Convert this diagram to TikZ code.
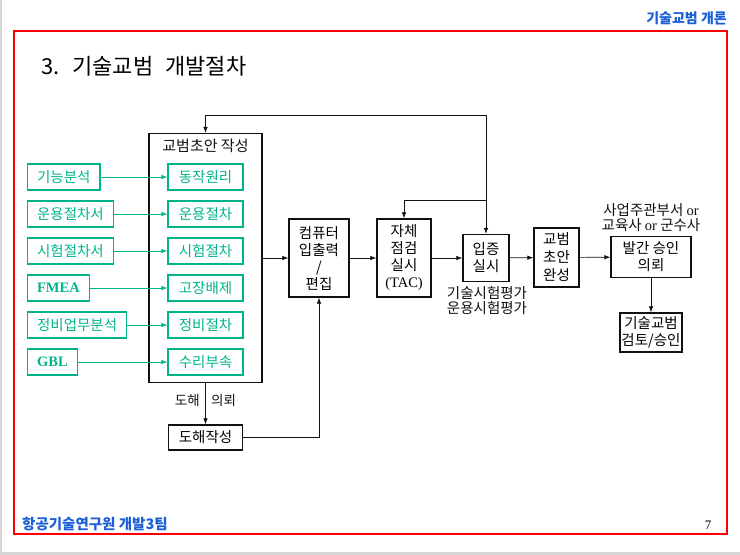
\documentclass[tikz,border=0pt]{standalone}
\usepackage{fontspec}
\setmainfont{Noto Sans CJK KR}
\newfontfamily\latfont{Liberation Serif}
\usetikzlibrary{positioning, arrows.meta}
\definecolor{Frame}{HTML}{FF0000}
\definecolor{Teal}{HTML}{00B48A}
\definecolor{Head}{HTML}{1B5FD8}
\definecolor{Edge}{HTML}{D6D6D6}
\definecolor{Ink}{HTML}{111111}
\tikzset{
    srcbox/.style={rectangle, draw=Teal, line width=1.2pt, text=Teal, anchor=west, minimum height=26pt, inner xsep=9.5pt, font=\fontsize{14.5}{17}\selectfont},
    docbox/.style={rectangle, draw=Teal, line width=1.2pt, text=Teal, minimum height=26pt, minimum width=75pt, inner sep=0pt, font=\fontsize{14.5}{17}\selectfont},
    stepbox/.style={rectangle, draw=Ink, line width=1.3pt, align=center, inner sep=0pt, font=\fontsize{14.5}{17}\selectfont},
    note/.style={align=center, inner sep=0pt, text=Ink, font=\fontsize{14.5}{15.5}\selectfont},
    arr/.style={-{Latex[length=6pt, width=4.5pt]}, line width=0.7pt, color=Ink},
    garr/.style={-{Latex[length=6pt, width=4.5pt]}, line width=0.8pt, color=Teal},
}
\begin{document}
\begin{tikzpicture}[x=1pt, y=-1pt]
    \useasboundingbox (0,0) rectangle (740,555);

    % slide edge and frame
    \fill[Edge] (0,0) rectangle (2,555);
    \fill[Edge] (0,552) rectangle (740,555);
    \draw[Frame, line width=2pt] (14,31) rectangle (727,534);

    % header, title, footer
    \node[anchor=east, inner sep=0pt, text=Head, font=\bfseries\fontsize{14}{15}\selectfont] (hdr) at (727,18) {기술교범 개론};
    \node[anchor=west, inner sep=0pt, font=\fontsize{22}{24}\selectfont] (ttl) at (41,66) {3.\hspace{13pt}기술교범\hspace{12pt}개발절차};
    \node[anchor=west, inner sep=0pt, text=Head, font=\bfseries\fontsize{14.5}{15}\selectfont] (ftr) at (22,524) {항공기술연구원 개발3팀};
    \node[font=\latfont\fontsize{13}{15}\selectfont] (pg) at (708,525) {7};

    % draft box with its documents
    \node[stepbox, minimum width=113pt, minimum height=249pt] (draft) at (205.5,258) {};
    \node[note, font=\fontsize{15}{16}\selectfont] (draftttl) at (205.5,146) {교범초안 작성};
    \node[docbox] (op) at (205.5,177) {동작원리};
    \node[docbox] (use) at (205.5,214) {운용절차};
    \node[docbox] (test) at (205.5,251) {시험절차};
    \node[docbox] (trbl) at (205.5,288) {고장배제};
    \node[docbox] (mnt) at (205.5,325) {정비절차};
    \node[docbox] (parts) at (205.5,362) {수리부속};

    % sources
    \node[srcbox] (func) at (27,177) {기능분석};
    \node[srcbox] (opdoc) at (27,214) {운용절차서};
    \node[srcbox] (testdoc) at (27,251) {시험절차서};
    \node[srcbox, font=\latfont\bfseries\fontsize{14.5}{17}\selectfont] (fmea) at (27,288) {FMEA};
    \node[srcbox] (task) at (27,325) {정비업무분석};
    \node[srcbox, font=\latfont\bfseries\fontsize{14.5}{17}\selectfont] (gbl) at (27,362) {GBL};
    \draw[garr] (func) -- (op);
    \draw[garr] (opdoc) -- (use);
    \draw[garr] (testdoc) -- (test);
    \draw[garr] (fmea) -- (trbl);
    \draw[garr] (task) -- (mnt);
    \draw[garr] (gbl) -- (parts);

    % main flow
    \node[stepbox, minimum width=60pt, minimum height=78pt] (cmp) at (319,258) {컴퓨터\\입출력\\/\\편집};
    \node[stepbox, minimum width=54pt, minimum height=78pt] (self) at (404,258) {자체\\점검\\실시\\{\latfont(TAC)}};
    \node[stepbox, minimum width=46pt, minimum height=47pt] (prove) at (486,258) {입증\\실시};
    \node[stepbox, minimum width=45pt, minimum height=59pt, font=\fontsize{14.5}{18}\selectfont] (done) at (556.5,257.5) {교범\\초안\\완성};
    \node[stepbox, minimum width=80pt, minimum height=41pt] (req) at (651,257) {발간 승인\\의뢰};
    \node[stepbox, minimum width=62pt, minimum height=39pt] (rev) at (651,332.5) {기술교범\\검토/승인};
    \node[note] (provelbl) at (487,300.5) {기술시험평가\\운용시험평가};
    \node[note] (reqlbl) at (651,217.5) {사업주관부서 {\latfont or}\\교육사 {\latfont or} 군수사};

    \draw[arr] (draft.east |- cmp.west) -- (cmp.west);
    \draw[arr] (cmp) -- (self);
    \draw[arr] (self) -- (prove);
    \draw[arr] (prove) -- (done);
    \draw[arr] (done) -- (req);
    \draw[arr] (req) -- (rev);

    % feedback
    \coordinate (fb) at (486,115);
    \coordinate (fbself) at (486,200);
    \draw[arr] (fb) -| (draft.north);
    \draw[arr] (fb) -- (prove.north);
    \draw[arr] (fbself) -| (self.north);

    % drawings
    \node[stepbox, minimum width=74pt, minimum height=25pt] (dwg) at (205.5,437.5) {도해작성};
    \node[note, anchor=east, font=\fontsize{13.5}{15}\selectfont] (dwgl) at (200,400) {도해};
    \node[note, anchor=west, font=\fontsize{13.5}{15}\selectfont] (dwgr) at (211,400) {의뢰};
    \draw[arr] (draft.south) -- (dwg.north);
    \draw[arr] (dwg.east) -| (cmp.south);
\end{tikzpicture}
\end{document}
